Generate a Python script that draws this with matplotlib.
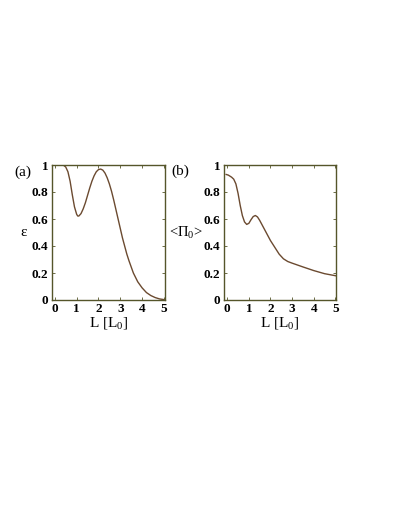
import matplotlib
matplotlib.use("Agg")
import matplotlib.pyplot as plt

# Panel (a): epsilon vs L
la = [-0.13, 0.0, 0.2, 0.4, 0.5, 0.6, 0.7, 0.8, 0.9, 1.0, 1.05, 1.1, 1.2, 1.3, 1.4, 1.5, 1.6, 1.7, 1.8, 1.9,
      2.0, 2.1, 2.2, 2.3, 2.4, 2.5, 2.6, 2.7, 2.8, 2.9, 3.0, 3.1, 3.2, 3.3, 3.4, 3.5, 3.6, 3.8,
      4.0, 4.2, 4.4, 4.6, 4.8, 5.0]
eps = [1.0, 1.0, 1.0, 0.998, 0.985, 0.95, 0.88, 0.78, 0.69, 0.635, 0.622, 0.622, 0.64, 0.675, 0.72, 0.775, 0.83, 0.88, 0.92, 0.95,
       0.966, 0.97, 0.962, 0.94, 0.905, 0.86, 0.805, 0.74, 0.67, 0.60, 0.53, 0.46, 0.40, 0.34, 0.29, 0.245, 0.20, 0.135,
       0.09, 0.055, 0.033, 0.018, 0.008, 0.003]

# Panel (b): <Pi_0> vs L
lb = [-0.05, 0.05, 0.1, 0.2, 0.3, 0.4, 0.5, 0.6, 0.7, 0.8, 0.9, 1.0, 1.1, 1.2, 1.3, 1.4, 1.5, 1.6, 1.8,
      2.0, 2.2, 2.4, 2.6, 2.8, 3.0, 3.5, 4.0, 4.5, 5.0]
pi0 = [0.93, 0.925, 0.92, 0.91, 0.895, 0.86, 0.79, 0.70, 0.625, 0.578, 0.56, 0.568, 0.595, 0.618, 0.626, 0.615, 0.59, 0.56, 0.50,
       0.44, 0.39, 0.34, 0.305, 0.285, 0.273, 0.245, 0.218, 0.195, 0.18]

xticks = [0, 1, 2, 3, 4, 5]
yticks = [0, 0.2, 0.4, 0.6, 0.8, 1]
yticklabels = ["0", "0.2", "0.4", "0.6", "0.8", "1"]

plt.rcParams['font.family'] = ['Liberation Serif', 'DejaVu Serif']
plt.rcParams['mathtext.fontset'] = 'custom'
plt.rcParams['mathtext.rm'] = 'Liberation Serif'
plt.rcParams['mathtext.it'] = 'Liberation Serif:italic'
plt.rcParams['mathtext.bf'] = 'Liberation Serif:bold'
plt.rcParams['mathtext.default'] = 'rm'
spine_col = '#55552a'
line_col = '#6b4a30'

fig = plt.figure(figsize=(4.02, 5.20), dpi=100)
axa = fig.add_axes([52/402, 1-300/520, 113/402, 135/520])
axb = fig.add_axes([224/402, 1-300/520, 112/402, 135/520])

for ax, x, y, xl in [(axa, la, eps, (-0.13, 5.05)), (axb, lb, pi0, (-0.15, 5.03))]:
    ax.plot(x, y, color=line_col, lw=1.0)
    ax.set_xlim(*xl)
    ax.set_ylim(0, 1.0)
    ax.set_xticks(xticks)
    ax.set_yticks(yticks)
    ax.set_yticklabels(yticklabels)
    ax.tick_params(direction='in', length=2.5, width=0.6, color=spine_col, top=True, right=True,
                   labelsize=9.5, pad=2.5)
    for lab in ax.get_xticklabels() + ax.get_yticklabels():
        lab.set_fontweight('bold')
    for s in ax.spines.values():
        s.set_color(spine_col)
        s.set_linewidth(1.0)
    ax.set_xlabel('L [L$_0$]', fontsize=11, labelpad=0)

fig.text(23/402, 1-172/520, '(a)', fontsize=11, ha='center', va='center')
fig.text(180/402, 1-171/520, '(b)', fontsize=11, ha='center', va='center')
fig.text(24/402, 1-233/520, 'ε', fontsize=11, ha='center', va='center')
fig.text(186/402, 1-233/520, '<Π$_0$>', fontsize=10.5, ha='center', va='center')

fig.savefig('out.png', dpi=100)
